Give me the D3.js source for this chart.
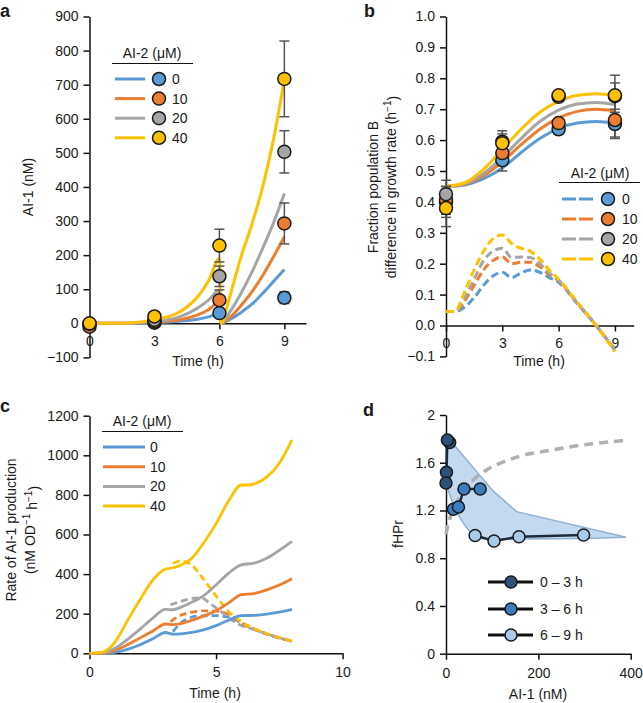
<!DOCTYPE html>
<html><head><meta charset="utf-8">
<script src="https://cdn.jsdelivr.net/npm/d3@7"></script>
<style>
body{margin:0;background:#fff;}
svg text{font-family:"Liberation Sans",Arial,Helvetica,sans-serif;fill:#1a1a1a;}
</style></head><body>
<svg id="chart" width="643" height="703"></svg>
<script>
// ---------------- shared ----------------
const ai2Labels = ["0", "10", "20", "40"];
const seriesColors = ["#5b9bd5", "#ed7d31", "#a5a5a5", "#ffc000"];

// ---------------- panel a data ----------------
const timesA = [0, 3, 6, 9];
const ai1_0  = [-3, 2, 30, 75];
const ai1_10 = [-10, 5, 68, 293];
const ai1_20 = [-2, 10, 138, 503];
const ai1_40 = [0, 20, 228, 717];
const ai1Err_0  = [8, 5, 10, 17];
const ai1Err_10 = [8, 6, 30, 60];
const ai1Err_20 = [8, 8, 30, 62];
const ai1Err_40 = [8, 8, 48, 111];
const fitA_0  = [[0,0],[1,0],[2,0.5],[3,2],[4,5],[4.5,8],[5,12],[5.5,19],[6,29],[6.08,0],[6.5,12],[7,32],[7.5,56],[8,88],[8.5,123],[9,158]];
const fitA_10 = [[0,0],[1,0],[2,1],[3,3],[4,9],[4.5,15],[5,25],[5.5,40],[6,62],[6.08,0],[6.5,18],[7,52],[7.5,92],[8,140],[8.5,195],[9,254]];
const fitA_20 = [[0,0],[1,0],[2,1],[3,5],[4,16],[4.5,28],[5,45],[5.5,68],[6,98],[6.08,0],[6.5,35],[7,88],[7.5,150],[8,220],[8.5,295],[9,381]];
const fitA_40 = [[0,0],[1,0],[2,2],[3,10],[3.5,17],[4,28],[4.5,48],[5,78],[5.5,125],[6,190],[6.08,0],[6.4,60],[6.7,128],[7,195],[7.5,290],[8,400],[8.5,540],[9,715]];
const yTicksA = [-100, 0, 100, 200, 300, 400, 500, 600, 700, 800, 900];
const xTicksA = [0, 3, 6, 9];

// ---------------- panel b data ----------------
const timesB = [0, 3, 6, 9];
const gr_0  = [0.40, 0.535, 0.635, 0.652];
const gr_10 = [0.405, 0.558, 0.655, 0.665];
const gr_20 = [0.425, 0.595, 0.74, 0.742];
const gr_40 = [0.38, 0.59, 0.745, 0.745];
const grLo_0  = [0.35, 0.50, 0.625, 0.605], grHi_0  = [0.45, 0.57, 0.645, 0.69];
const grLo_10 = [0.36, 0.52, 0.645, 0.61],  grHi_10 = [0.45, 0.60, 0.665, 0.73];
const grLo_20 = [0.38, 0.57, 0.73, 0.70],   grHi_20 = [0.47, 0.63, 0.75, 0.785];
const grLo_40 = [0.32, 0.56, 0.735, 0.68],  grHi_40 = [0.44, 0.62, 0.755, 0.81];
const fitB_0  = [[0,0.45],[1,0.455],[2,0.475],[3,0.51],[4,0.56],[5,0.605],[6,0.638],[7,0.655],[8,0.66],[9,0.655]];
const fitB_10 = [[0,0.45],[1,0.458],[2,0.485],[3,0.53],[4,0.585],[5,0.635],[6,0.672],[7,0.693],[8,0.70],[9,0.695]];
const fitB_20 = [[0,0.45],[1,0.46],[2,0.492],[3,0.545],[4,0.605],[5,0.66],[6,0.697],[7,0.717],[8,0.722],[9,0.715]];
const fitB_40 = [[0,0.45],[1,0.462],[2,0.505],[3,0.57],[4,0.635],[5,0.69],[6,0.725],[7,0.745],[8,0.75],[9,0.745]];
const diffB_0  = [[0,0.045],[0.5,0.045],[1,0.06],[1.5,0.09],[2,0.13],[2.5,0.16],[3,0.172],[3.5,0.155],[4,0.17],[4.5,0.18],[5,0.172],[5.5,0.155],[6,0.14],[7,0.07],[8,0],[9,-0.08]];
const diffB_10 = [[0,0.045],[0.5,0.045],[1,0.08],[1.5,0.13],[2,0.18],[2.5,0.21],[3,0.222],[3.5,0.20],[4,0.205],[4.5,0.205],[5,0.19],[5.5,0.165],[6,0.145],[7,0.072],[8,0],[9,-0.08]];
const diffB_20 = [[0,0.045],[0.5,0.045],[1,0.09],[1.5,0.15],[2,0.21],[2.5,0.24],[3,0.25],[3.5,0.22],[4,0.222],[4.5,0.22],[5,0.2],[5.5,0.17],[6,0.147],[7,0.073],[8,0],[9,-0.08]];
const diffB_40 = [[0,0.045],[0.5,0.047],[1,0.11],[1.5,0.18],[2,0.24],[2.5,0.28],[3,0.293],[3.5,0.265],[4,0.25],[4.5,0.24],[5,0.215],[5.5,0.18],[6,0.15],[7,0.075],[8,0],[9,-0.085]];
const yTicksB = [-0.1, 0, 0.1, 0.2, 0.3, 0.4, 0.5, 0.6, 0.7, 0.8, 0.9, 1.0];
const xTicksB = [0, 3, 6, 9];

// ---------------- panel c data ----------------
const rateC_0   = [[0,0],[0.5,0],[1,5],[1.5,20],[2,43],[2.5,73],[3,105],[3.3,97],[3.6,98],[4,104],[4.5,118],[5,140],[5.5,167],[6,190],[6.5,192],[7,198],[7.5,208],[8,222]];
const rateC_10  = [[0,0],[0.5,1],[1,15],[1.5,43],[2,78],[2.5,113],[3,148],[3.3,145],[3.6,150],[4,165],[4.5,188],[5,215],[5.5,255],[6,296],[6.5,302],[7,320],[7.5,345],[8,377]];
const rateC_20  = [[0,0],[0.5,2],[1,25],[1.5,70],[2,122],[2.5,178],[3,222],[3.3,220],[3.6,232],[4,255],[4.5,290],[5,345],[5.5,405],[6,447],[6.5,455],[7,480],[7.5,520],[8,565]];
const rateC_40  = [[0,0],[0.5,5],[1,55],[1.5,165],[2,272],[2.5,370],[3,425],[3.3,432],[3.6,445],[4,475],[4.5,555],[5,655],[5.5,770],[6,850],[6.3,850],[6.6,860],[7,890],[7.5,960],[8,1078]];
const rateCd_0  = [[3.3,110],[3.5,140],[3.8,170],[4.3,188],[5,190],[5.5,183],[6,155],[6.5,122],[7,98],[7.5,78],[8,62]];
const rateCd_10 = [[3.2,160],[3.6,192],[4,207],[4.5,214],[5,213],[5.5,196],[5.8,172],[6,152],[6.5,122],[7,98],[7.5,78],[8,62]];
const rateCd_20 = [[3.2,245],[3.6,262],[4,275],[4.4,280],[4.8,248],[5.2,210],[5.6,170],[6,140],[6.5,120],[7,98],[7.5,78],[8,60]];
const rateCd_40 = [[3.3,455],[3.6,466],[4,450],[4.5,375],[5,290],[5.5,210],[6,160],[6.5,125],[7,100],[7.5,80],[8,62]];
const yTicksC = [0, 200, 400, 600, 800, 1000, 1200];
const xTicksC = [0, 5, 10];

// ---------------- panel d data ----------------
const periodLabels = ["0 \u2013 3 h", "3 \u2013 6 h", "6 \u2013 9 h"];
const periodColors = ["#2b5279", "#3c7cbf", "#a9cbeb"];
const hpr03 = [[8,1.77],[3,1.79],[1,1.52],[0,1.43]];
const hpr36 = [[16,1.21],[27,1.23],[39,1.38],[74,1.38]];
const hpr69 = [[63,0.99],[104,0.944],[158,0.98],[298,0.995]];
const envUpper = [[0,1.80],[6,1.80],[103,1.36],[153,1.19],[390,0.975]];
const envLower = [[390,0.975],[300,0.965],[160,0.96],[63,0.965],[40,1.08],[18,1.22],[4,1.38],[0,1.42]];
const modelD = [[0,1.0],[5,1.09],[10,1.15],[16,1.2],[25,1.28],[38,1.36],[55,1.44],[88,1.54],[120,1.6],[160,1.655],[220,1.7],[280,1.74],[333,1.765],[390,1.79]];
const yTicksD = [0, 0.4, 0.8, 1.2, 1.6, 2];
const xTicksD = [0, 200, 400];

// ================= drawing =================
const FONT = '"Liberation Sans", Arial, Helvetica, sans-serif';
const svg = d3.select("#chart");

function styleAxis(g) {
  g.attr("font-size", 14).attr("font-family", FONT);
  g.select(".domain").attr("stroke", "#111").attr("stroke-width", 1.5);
  g.selectAll(".tick line").attr("stroke", "#111").attr("stroke-width", 1.5);
  g.selectAll(".tick text").attr("fill", "#1a1a1a");
}
function addText(x, y, txt, opts = {}) {
  const t = svg.append("text").attr("x", x).attr("y", y).text(txt)
    .attr("font-size", opts.size || 14).attr("text-anchor", opts.anchor || "start");
  if (opts.bold) t.attr("font-weight", "bold");
  if (opts.rotate) t.attr("transform", `rotate(-90,${x},${y})`).attr("dy", "0.35em");
  return t;
}
function drawAxes(xs, ys, xTicks, yTicks, yAt, yFmt, xPad) {
  const gy = svg.append("g").attr("transform", `translate(${xs.range()[0]},0)`)
    .call(d3.axisLeft(ys).tickValues(yTicks).tickSize(6).tickPadding(5).tickSizeOuter(0).tickFormat(yFmt));
  styleAxis(gy);
  const gx = svg.append("g").attr("transform", `translate(0,${ys(yAt)})`)
    .call(d3.axisBottom(xs).tickValues(xTicks).tickSize(6).tickPadding(xPad).tickSizeOuter(0).tickFormat(d3.format("d")));
  styleAxis(gx);
}
function curve(xs, ys, data, color, width, dash) {
  const line = d3.line().x(d => xs(d[0])).y(d => ys(d[1])).curve(d3.curveMonotoneX);
  const p = svg.append("path").datum(data).attr("d", line).attr("fill", "none")
    .attr("stroke", color).attr("stroke-width", width).attr("stroke-linecap", "butt");
  if (dash) p.attr("stroke-dasharray", dash);
  return p;
}
function errBar(x, y1, y2) {
  svg.append("line").attr("x1", x).attr("x2", x).attr("y1", y1).attr("y2", y2).attr("stroke", "#555").attr("stroke-width", 1.5);
  [y1, y2].forEach(y => svg.append("line").attr("x1", x - 5).attr("x2", x + 5).attr("y1", y).attr("y2", y).attr("stroke", "#555").attr("stroke-width", 1.5));
}
function dot(x, y, color, r = 6.5) {
  svg.append("circle").attr("cx", x).attr("cy", y).attr("r", r).attr("fill", color).attr("stroke", "#1a1a1a").attr("stroke-width", 1.5);
}

// ---------- panel a ----------
{
  const xs = d3.scaleLinear().domain([0, 10]).range([89.5, 306]);
  const ys = d3.scaleLinear().domain([-100, 900]).range([357.4, 16.5]);
  drawAxes(xs, ys, xTicksA, yTicksA, 0, d3.format("d"), 7);
  const fits = [fitA_0, fitA_10, fitA_20, fitA_40];
  const means = [ai1_0, ai1_10, ai1_20, ai1_40];
  const errs = [ai1Err_0, ai1Err_10, ai1Err_20, ai1Err_40];
  fits.forEach((f, i) => curve(xs, ys, f, seriesColors[i], 3));
  means.forEach((m, i) => m.forEach((v, j) => errBar(xs(timesA[j]), ys(v - errs[i][j]), ys(v + errs[i][j]))));
  means.forEach((m, i) => m.forEach((v, j) => dot(xs(timesA[j]), ys(v), seriesColors[i])));
  addText(198, 366, "Time (h)", { anchor: "middle" });
  addText(28, 187, "AI-1 (nM)", { anchor: "middle", rotate: true });
  addText(0, 17, "a", { bold: true, size: 18 });
  // legend
  addText(152, 58, "AI-2 (\u03bcM)", { anchor: "middle" });
  svg.append("line").attr("x1", 112).attr("x2", 193).attr("y1", 63.5).attr("y2", 63.5).attr("stroke", "#111").attr("stroke-width", 1.2);
  ai2Labels.forEach((l, i) => {
    const y = 79 + i * 19.6;
    svg.append("line").attr("x1", 115).attr("x2", 145).attr("y1", y).attr("y2", y).attr("stroke", seriesColors[i]).attr("stroke-width", 3);
    dot(159, y, seriesColors[i]);
    addText(172, y + 5, l);
  });
}

// ---------- panel b ----------
{
  const xs = d3.scaleLinear().domain([0, 10]).range([446, 633.7]);
  const ys = d3.scaleLinear().domain([-0.1, 1.0]).range([356.4, 16.5]);
  drawAxes(xs, ys, xTicksB, yTicksB, 0, d3.format(".1f"), 7);
  const fits = [fitB_0, fitB_10, fitB_20, fitB_40];
  const diffs = [diffB_0, diffB_10, diffB_20, diffB_40];
  const means = [gr_0, gr_10, gr_20, gr_40];
  const los = [grLo_0, grLo_10, grLo_20, grLo_40];
  const his = [grHi_0, grHi_10, grHi_20, grHi_40];
  diffs.forEach((f, i) => curve(xs, ys, f, seriesColors[i], 3, "8,4"));
  fits.forEach((f, i) => curve(xs, ys, f, seriesColors[i], 3));
  means.forEach((m, i) => m.forEach((v, j) => errBar(xs(timesB[j]), ys(los[i][j]), ys(his[i][j]))));
  means.forEach((m, i) => m.forEach((v, j) => dot(xs(timesB[j]), ys(v), seriesColors[i])));
  addText(539, 366, "Time (h)", { anchor: "middle" });
  addText(373, 187, "Fraction population B", { anchor: "middle", rotate: true });
  const t2 = addText(391, 187, "difference in growth rate (h", { anchor: "middle", rotate: true });
  t2.append("tspan").text("\u22121").attr("font-size", 10).attr("dy", "-0.45em");
  t2.append("tspan").text(")").attr("dy", "0.45em");
  addText(364, 17, "b", { bold: true, size: 18 });
  // legend
  addText(600, 178, "AI-2 (\u03bcM)", { anchor: "middle" });
  svg.append("line").attr("x1", 559).attr("x2", 640).attr("y1", 182.5).attr("y2", 182.5).attr("stroke", "#111").attr("stroke-width", 1.2);
  ai2Labels.forEach((l, i) => {
    const y = 199 + i * 20;
    svg.append("line").attr("x1", 562).attr("x2", 595).attr("y1", y).attr("y2", y).attr("stroke", seriesColors[i]).attr("stroke-width", 3).attr("stroke-dasharray", "14,3");
    dot(608, y, seriesColors[i]);
    addText(622, y + 5, l);
  });
}

// ---------- panel c ----------
{
  const xs = d3.scaleLinear().domain([0, 10]).range([89.5, 342.6]);
  const ys = d3.scaleLinear().domain([0, 1200]).range([653.3, 415.7]);
  drawAxes(xs, ys, xTicksC, yTicksC, 0, d3.format("d"), 8);
  const sol = [rateC_0, rateC_10, rateC_20, rateC_40];
  const das = [rateCd_0, rateCd_10, rateCd_20, rateCd_40];
  das.forEach((f, i) => curve(xs, ys, f, seriesColors[i], 2.8, "7,4"));
  sol.forEach((f, i) => curve(xs, ys, f, seriesColors[i], 2.8));
  addText(215, 698, "Time (h)", { anchor: "middle" });
  addText(11, 530, "Rate of AI-1 production", { anchor: "middle", rotate: true });
  const t2 = addText(30, 530, "(nM OD", { anchor: "middle", rotate: true });
  t2.append("tspan").text("\u22121").attr("font-size", 10).attr("dy", "-0.45em");
  t2.append("tspan").text(" h").attr("dy", "0.45em");
  t2.append("tspan").text("\u22121").attr("font-size", 10).attr("dy", "-0.45em");
  t2.append("tspan").text(")").attr("dy", "0.45em");
  addText(0, 412, "c", { bold: true, size: 18 });
  addText(142, 426, "AI-2 (\u03bcM)", { anchor: "middle" });
  svg.append("line").attr("x1", 102).attr("x2", 183).attr("y1", 431.5).attr("y2", 431.5).attr("stroke", "#111").attr("stroke-width", 1.2);
  ai2Labels.forEach((l, i) => {
    const y = 447 + i * 19.7;
    svg.append("line").attr("x1", 103).attr("x2", 145).attr("y1", y).attr("y2", y).attr("stroke", seriesColors[i]).attr("stroke-width", 3);
    addText(150, y + 5, l);
  });
}

// ---------- panel d ----------
{
  const xs = d3.scaleLinear().domain([0, 400]).range([446, 630.7]);
  const ys = d3.scaleLinear().domain([0, 2]).range([653.7, 415]);
  const env = envUpper.concat(envLower);
  svg.append("path").datum(env)
    .attr("d", d3.line().x(d => xs(d[0])).y(d => ys(d[1])).curve(d3.curveLinearClosed))
    .attr("fill", "#c3d9f0").attr("stroke", "#8fb1d4").attr("stroke-width", 1.5);
  const gy = svg.append("g").attr("transform", `translate(${xs.range()[0]},0)`)
    .call(d3.axisLeft(ys).tickValues(yTicksD).tickSize(6).tickPadding(5).tickSizeOuter(0)
      .tickFormat(d => (d === 0 || d === 2) ? String(d) : d.toFixed(1)));
  styleAxis(gy);
  const gx = svg.append("g").attr("transform", `translate(0,${ys(0)})`)
    .call(d3.axisBottom(xs).tickValues(xTicksD).tickSize(6).tickPadding(8).tickSizeOuter(0).tickFormat(d3.format("d")));
  styleAxis(gx);
  svg.append("path").datum(modelD)
    .attr("d", d3.line().x(d => xs(d[0])).y(d => ys(d[1])).curve(d3.curveMonotoneX))
    .attr("fill", "none").attr("stroke", "#b0b0b0").attr("stroke-width", 3.5).attr("stroke-dasharray", "9,6");
  const sets = [hpr69, hpr36, hpr03];
  const cols = [periodColors[2], periodColors[1], periodColors[0]];
  sets.forEach((s, k) => {
    svg.append("path").datum(s)
      .attr("d", d3.line().x(d => xs(d[0])).y(d => ys(d[1])))
      .attr("fill", "none").attr("stroke", "#1d2b3a").attr("stroke-width", 2.5);
    s.forEach(d => dot(xs(d[0]), ys(d[1]), cols[k], 6));
  });
  addText(538, 699, "AI-1 (nM)", { anchor: "middle" });
  addText(398, 534, "fHPr", { anchor: "middle", rotate: true });
  addText(363, 416, "d", { bold: true, size: 18 });
  periodLabels.forEach((l, i) => {
    const y = [582, 609, 635][i];
    svg.append("line").attr("x1", 488).attr("x2", 533).attr("y1", y).attr("y2", y).attr("stroke", "#111").attr("stroke-width", 3);
    dot(511, y, periodColors[i], 6);
    addText(540, y + 5, l);
  });
}
</script>
</body></html>
